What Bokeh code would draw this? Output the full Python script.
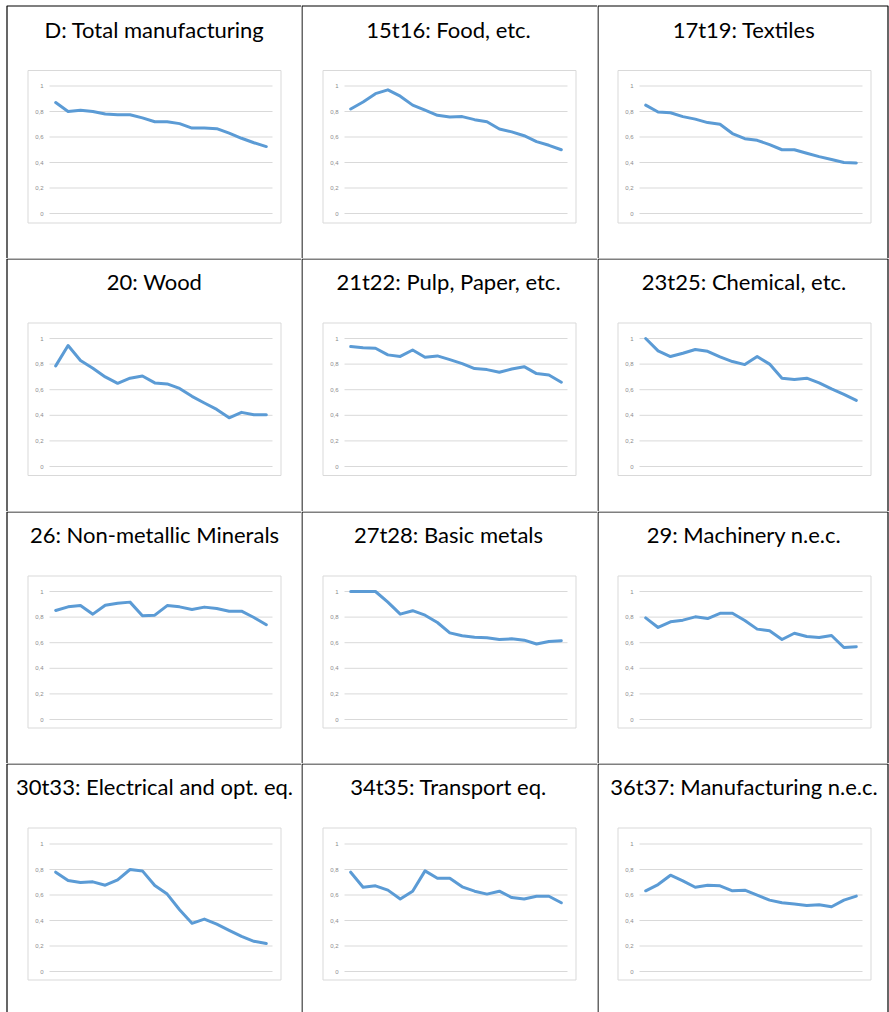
from bokeh.plotting import figure
from bokeh.layouts import gridplot
from bokeh.models import Range1d, BoxAnnotation
from bokeh.core.properties import value
from bokeh.embed import file_html
from bokeh.resources import INLINE

# ---------------- data ----------------
titles = [
    "D: Total manufacturing", "15t16: Food, etc.", "17t19: Textiles",
    "20: Wood", "21t22: Pulp, Paper, etc.", "23t25: Chemical, etc.",
    "26: Non-metallic Minerals", "27t28: Basic metals", "29: Machinery n.e.c.",
    "30t33: Electrical and opt. eq.", "34t35: Transport eq.", "36t37: Manufacturing n.e.c.",
]
periods = list(range(18))

total_manufacturing = [0.87, 0.80, 0.81, 0.80, 0.78, 0.775, 0.775, 0.75, 0.72, 0.72, 0.705, 0.67, 0.67, 0.665, 0.63, 0.59, 0.555, 0.525]
food = [0.82, 0.875, 0.94, 0.97, 0.92, 0.85, 0.81, 0.77, 0.757, 0.76, 0.736, 0.72, 0.663, 0.64, 0.61, 0.564, 0.535, 0.50]
textiles = [0.85, 0.796, 0.79, 0.76, 0.74, 0.713, 0.70, 0.627, 0.587, 0.574, 0.54, 0.50, 0.50, 0.473, 0.446, 0.423, 0.40, 0.397]
wood = [0.786, 0.945, 0.828, 0.768, 0.70, 0.65, 0.69, 0.707, 0.653, 0.645, 0.61, 0.548, 0.496, 0.446, 0.38, 0.423, 0.405, 0.405]
pulp_paper = [0.937, 0.927, 0.924, 0.872, 0.86, 0.91, 0.854, 0.864, 0.835, 0.804, 0.765, 0.757, 0.736, 0.762, 0.78, 0.726, 0.715, 0.658]
chemical = [1.0, 0.903, 0.859, 0.885, 0.914, 0.90, 0.856, 0.82, 0.796, 0.859, 0.80, 0.69, 0.68, 0.69, 0.653, 0.606, 0.564, 0.517]
non_metallic = [0.852, 0.88, 0.89, 0.823, 0.893, 0.909, 0.917, 0.81, 0.815, 0.89, 0.88, 0.86, 0.878, 0.867, 0.846, 0.846, 0.797, 0.74]
basic_metals = [1.0, 1.0, 1.0, 0.917, 0.823, 0.85, 0.815, 0.758, 0.677, 0.654, 0.643, 0.638, 0.625, 0.63, 0.62, 0.59, 0.61, 0.615]
machinery = [0.794, 0.719, 0.763, 0.776, 0.802, 0.789, 0.83, 0.83, 0.773, 0.706, 0.693, 0.625, 0.674, 0.648, 0.64, 0.656, 0.5625, 0.568]
electrical = [0.779, 0.713, 0.698, 0.703, 0.677, 0.719, 0.80, 0.789, 0.674, 0.607, 0.484, 0.378, 0.411, 0.372, 0.323, 0.276, 0.237, 0.219]
transport = [0.779, 0.661, 0.672, 0.638, 0.568, 0.63, 0.789, 0.732, 0.732, 0.664, 0.63, 0.607, 0.63, 0.58, 0.568, 0.59, 0.59, 0.539]
manufacturing_nec = [0.633, 0.682, 0.755, 0.711, 0.661, 0.677, 0.672, 0.633, 0.638, 0.599, 0.56, 0.539, 0.529, 0.518, 0.523, 0.508, 0.56, 0.591]

series = [total_manufacturing, food, textiles, wood, pulp_paper, chemical,
          non_metallic, basic_metals, machinery, electrical, transport, manufacturing_nec]

y_ticks = [0, 0.2, 0.4, 0.6, 0.8, 1]
y_tick_labels = ["0", "0,2", "0,4", "0,6", "0,8", "1"]

# ---------------- layout / style (pixels inside each table cell) ----------------
col_widths = [301, 296, 292]
row_heights = [258, 253, 252, 249]

border_left = [6.5, 0.5, 0.5]          # left table line inside each column
border_top = [5.5, 0.5, 0.5, 0.5]      # top table line inside each row
grid_left = [49, 43, 42]               # start of the plotting area
box_left = [27.5, 21.5, 20.5]          # inner chart box
title_cx = [154, 147, 146.5]
y1_px = [85.5, 80, 80, 80.5]           # pixel row of the y=1 gridline
y0_px = [213, 208, 208, 208]           # pixel row of the y=0 gridline
box_top = [70, 64.5, 64.5, 64.5]
box_bottom = [222.5, 217, 216.5, 216.5]
title_baseline = [28.5, 22.5, 22.5, 22.5]

GRID_W = 223
BOX_W = 253

LINE_COLOR = "#5B9BD5"
GRID_COLOR = "#D9D9D9"
TICK_COLOR = "#8C8C8C"

n = len(periods)
ux = GRID_W / n                   # pixels per period

rows = []
k = 0
for r, H in enumerate(row_heights):
    uy = y0_px[r] - y1_px[r]      # pixels per unit of y
    row_figs = []
    for c, W in enumerate(col_widths):
        x0 = -0.5 - grid_left[c] / ux
        y_top = 1 + y1_px[r] / uy
        y_bot = y_top - H / uy
        p = figure(
            width=W, height=H, x_axis_type=None, y_axis_type=None, title=None,
            toolbar_location=None, output_backend="svg",
            x_range=Range1d(x0, x0 + W / ux), y_range=Range1d(y_bot, y_top),
            min_border=0,
        )
        p.extra_x_ranges = {"px": Range1d(0, W)}
        p.extra_y_ranges = {"px": Range1d(H, 0)}
        p.outline_line_color = None
        p.background_fill_color = "white"
        p.border_fill_color = "white"
        p.xgrid.visible = False
        p.ygrid.visible = False

        # inner chart box
        p.add_layout(BoxAnnotation(
            left=box_left[c], right=box_left[c] + BOX_W,
            top=box_top[r], bottom=box_bottom[r],
            x_range_name="px", y_range_name="px",
            fill_alpha=0, line_color=GRID_COLOR, line_alpha=1, line_width=1,
            level="underlay"))

        # horizontal gridlines at the y ticks
        p.segment(x0=[-0.5] * len(y_ticks), x1=[n - 0.5] * len(y_ticks),
                  y0=y_ticks, y1=y_ticks, line_color=GRID_COLOR, line_width=1)

        # y tick labels
        p.text(x=[-0.5] * len(y_ticks), y=y_ticks, text=y_tick_labels,
               x_offset=-6, text_align="right", text_baseline="middle",
               text_font=value("Liberation Sans"), text_font_size="6px",
               text_color=TICK_COLOR)

        # data line
        p.line(periods, series[k], line_color=LINE_COLOR, line_width=3,
               line_join="round", line_cap="round")

        # table cell border (left/top; right on last column; bottom cut off)
        p.add_layout(BoxAnnotation(
            left=border_left[c], right=(W - 1.5) if c == 2 else W + 5,
            top=border_top[r], bottom=H + 5,
            x_range_name="px", y_range_name="px",
            fill_alpha=0, line_color="black", line_alpha=1, line_width=1.2,
            level="overlay"))

        # cell title
        p.text(x=[title_cx[c]], y=[title_baseline[r]], text=[titles[k]],
               x_range_name="px", y_range_name="px",
               text_align="center", text_baseline="alphabetic",
               text_font=value("Lato"), text_font_size="22px", text_color="black")

        row_figs.append(p)
        k += 1
    rows.append(row_figs)

grid = gridplot(rows, toolbar_location=None)

with open("out.html", "w") as f:
    f.write(file_html(grid, INLINE))
